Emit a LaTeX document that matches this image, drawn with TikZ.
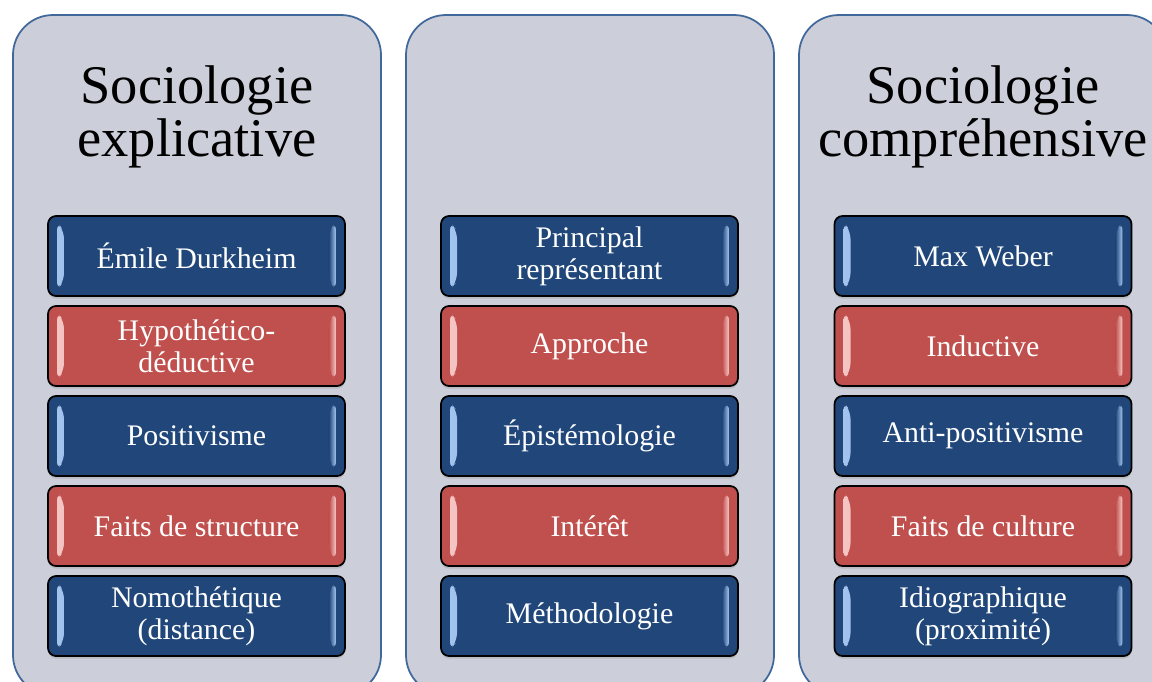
\documentclass[tikz,border=0pt]{standalone}
\usepackage{fontspec}
\setmainfont{Liberation Serif}
\usetikzlibrary{shadows}
\definecolor{panelfill}{HTML}{CCCFD9}
\definecolor{paneledge}{HTML}{41689A}
\definecolor{boxblue}{HTML}{21477A}
\definecolor{boxred}{HTML}{C0504D}
\definecolor{liteblue}{HTML}{A6C8F2}
\definecolor{litered}{HTML}{F6C9C7}
\tikzset{
  panel/.style={draw=paneledge, line width=1pt, fill=panelfill, rounded corners=0.8cm},
  title/.style={align=center, font=\fontsize{31}{30}\selectfont},
  bevel/.style 2 args={path picture={
    \fill[left color=#1, right color=#2]
      ([shift={(0.18cm,-0.12cm)}]path picture bounding box.north west) --
      ([shift={(0.32cm,-0.30cm)}]path picture bounding box.north west) --
      ([shift={(0.32cm,0.30cm)}]path picture bounding box.south west) --
      ([shift={(0.18cm,0.12cm)}]path picture bounding box.south west) -- cycle;
    \fill[right color=#1, left color=#2]
      ([shift={(-0.18cm,-0.12cm)}]path picture bounding box.north east) --
      ([shift={(-0.32cm,-0.30cm)}]path picture bounding box.north east) --
      ([shift={(-0.32cm,0.30cm)}]path picture bounding box.south east) --
      ([shift={(-0.18cm,0.12cm)}]path picture bounding box.south east) -- cycle;
  }},
  card/.style={draw=black, line width=1pt, rounded corners=0.16cm,
    minimum width=5.94cm, minimum height=1.6cm, text=white, align=center,
    font=\fontsize{17}{18}\selectfont,
    drop shadow={shadow xshift=0pt, shadow yshift=-1.5pt, opacity=0.25}},
  bluecard/.style={card, fill=boxblue, bevel={liteblue}{boxblue}},
  redcard/.style={card, fill=boxred, bevel={litered}{boxred}}
}
\begin{document}
\begin{tikzpicture}[x=0.02cm, y=-0.02cm]
\useasboundingbox[fill=white] (0,0) rectangle (1152,681);
% the three columns
\draw[panel] (13,15) rectangle (381,695);
\draw[panel] (406,15) rectangle (774,695);
\draw[panel] (799,15) rectangle (1167,695);
\node[title] (titleA) at (197,117) {Sociologie\\explicative};
\node[title] (titleC) at (983,117) {Sociologie\\compréhensive};

% left column
\node[bluecard] (a1) at (196.5,256) {Émile Durkheim};
\node[redcard]  (a2) at (196.5,346) {Hypothético-\\déductive};
\node[bluecard] (a3) at (196.5,436) {Positivisme};
\node[redcard]  (a4) at (196.5,526) {Faits de structure};
\node[bluecard] (a5) at (196.5,616) {Nomothétique\\(distance)};

% middle column
\node[bluecard] (b1) at (589.5,256) {Principal\\représentant};
\node[redcard]  (b2) at (589.5,346) {Approche};
\node[bluecard] (b3) at (589.5,436) {Épistémologie};
\node[redcard]  (b4) at (589.5,526) {Intérêt};
\node[bluecard] (b5) at (589.5,616) {Méthodologie};

% right column
\node[bluecard] (c1) at (983,256) {Max Weber};
\node[redcard]  (c2) at (983,346) {Inductive};
\node[bluecard] (c3) at (983,436) {Anti-positivisme};
\node[redcard]  (c4) at (983,526) {Faits de culture};
\node[bluecard] (c5) at (983,616) {Idiographique\\(proximité)};
\end{tikzpicture}
\end{document}
